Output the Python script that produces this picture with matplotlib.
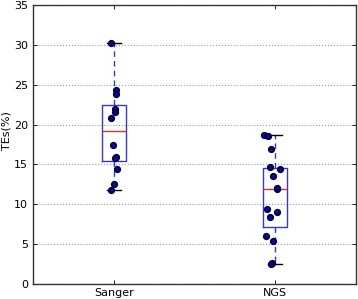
import numpy as np
import matplotlib
matplotlib.use("Agg")
import matplotlib.pyplot as plt

# values
groups = ["Sanger", "NGS"]
sanger = [30.24, 24.34, 23.9, 22.0, 21.6, 20.87, 17.48, 15.97, 15.8, 14.4, 12.6, 11.8]
ngs = [18.7, 18.6, 16.9, 14.64, 14.43, 13.6, 11.92, 12.0, 9.4, 9.07, 8.4, 5.98, 5.43, 2.67, 2.47]
# horizontal jitter of each dot, as seen in the picture
sanger_dx = [-0.019, 0.017, 0.012, 0.008, 0.006, -0.014, -0.002, 0.012, 0.008, 0.023, 0.0, -0.014]
ngs_dx = [-0.068, -0.045, -0.027, -0.031, 0.027, -0.012, 0.008, 0.011, -0.051, 0.008, -0.031, -0.060, -0.011, -0.023, -0.025]

fig = plt.figure(figsize=(3.58, 2.99), dpi=100)
ax = fig.add_axes([0.0922, 0.0502, 0.9022, 0.9328])

bp = ax.boxplot([sanger, ngs], positions=[1, 2], widths=0.15,
                capwidths=0.085, showfliers=False, patch_artist=False)
for b in bp["boxes"]:
    b.set(color="#3838cc", linewidth=1.0)
for m in bp["medians"]:
    m.set(color="#e03030", linewidth=1.0)
for w in bp["whiskers"]:
    w.set(color="#3838cc", linestyle=(0, (4, 3)), linewidth=1.0)
for c in bp["caps"]:
    c.set(color="black", linewidth=1.0)

for pos, vals, dx in [(1, sanger, sanger_dx), (2, ngs, ngs_dx)]:
    ax.plot(pos + np.array(dx), vals, "o", color="#0c0c80",
            markeredgecolor="#000040", markersize=4.2, zorder=5)

ax.set_xlim(0.5, 2.5)
ax.set_ylim(0, 35)
ax.set_yticks(np.arange(0, 36, 5))
ax.set_xticks([1, 2])
ax.set_xticklabels(groups)
ax.yaxis.grid(True, linestyle=":", color="#999999", linewidth=0.8)
ax.set_axisbelow(True)
ax.tick_params(direction="in", length=3, labelsize=8, top=True, right=True, width=0.6)
ax.tick_params(axis="x", pad=3)
# y label placed by hand so it is not clipped at the left edge
fig.text(0.004, 0.565, "TEs(%)", rotation=90, ha="left", va="center", fontsize=8)
for s in ax.spines.values():
    s.set_linewidth(1.0)
    s.set_color("#333333")

fig.savefig("out.png", dpi=100)
